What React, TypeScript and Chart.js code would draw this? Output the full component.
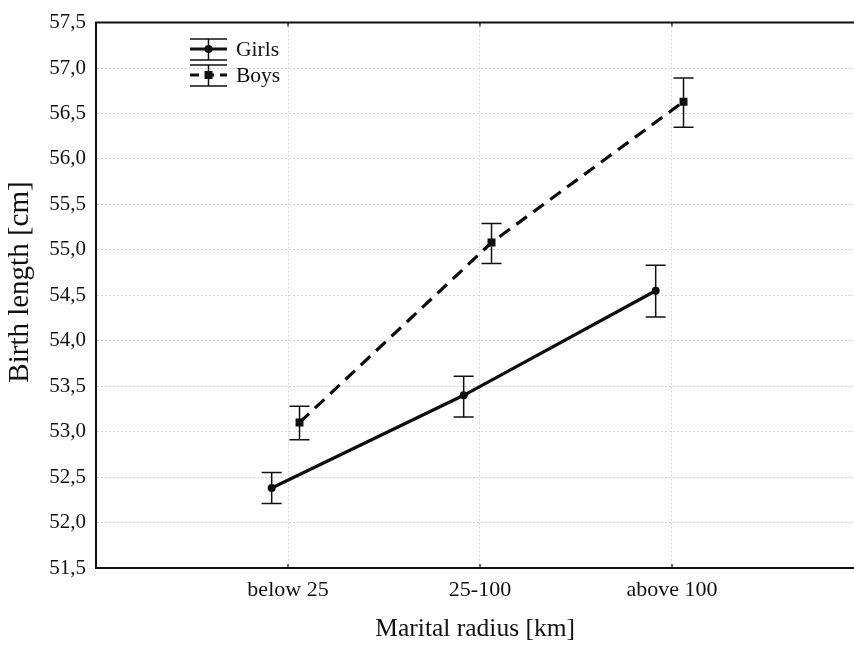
import React, { useEffect, useRef } from "react";
import { Chart, registerables } from "chart.js";

Chart.register(...registerables);

const categories = ["below 25", "25-100", "above 100"];
const girlsMean = [52.38, 53.40, 54.55];
const girlsLow = [52.21, 53.16, 54.26];
const girlsHigh = [52.55, 53.61, 54.83];
const boysMean = [53.10, 55.08, 56.63];
const boysLow = [52.91, 54.85, 56.35];
const boysHigh = [53.28, 55.29, 56.89];
const seriesNames = ["Girls", "Boys"];
const yTitle = "Birth length [cm]";
const xTitle = "Marital radius [km]";

const GIRLS_SHIFT = -0.085;
const BOYS_SHIFT = 0.06;
const FONT = "'Liberation Serif', 'Times New Roman', serif";

const lows = [girlsLow, boysLow];
const highs = [girlsHigh, boysHigh];

const errorBarPlugin = {
  id: "errorBars",
  afterDatasetsDraw(chart: any) {
    const ctx = chart.ctx;
    const yScale = chart.scales.y;
    ctx.save();
    ctx.strokeStyle = "#111";
    ctx.lineWidth = 1.5;
    ctx.setLineDash([]);
    chart.data.datasets.forEach((_ds: any, di: number) => {
      const meta = chart.getDatasetMeta(di);
      meta.data.forEach((el: any, i: number) => {
        const x = el.x;
        const yl = yScale.getPixelForValue(lows[di][i]);
        const yh = yScale.getPixelForValue(highs[di][i]);
        ctx.beginPath();
        ctx.moveTo(x, yl);
        ctx.lineTo(x, yh);
        ctx.moveTo(x - 10, yl);
        ctx.lineTo(x + 10, yl);
        ctx.moveTo(x - 10, yh);
        ctx.lineTo(x + 10, yh);
        ctx.stroke();
      });
    });
    ctx.restore();
  },
};

const framePlugin = {
  id: "frame",
  afterDraw(chart: any) {
    const ctx = chart.ctx;
    const { left, right, top, bottom } = chart.chartArea;
    const xScale = chart.scales.x;
    ctx.save();
    ctx.strokeStyle = "#111";
    ctx.lineWidth = 2;
    ctx.beginPath();
    ctx.moveTo(left - 1, top);
    ctx.lineTo(Math.max(right, chart.width), top);
    ctx.stroke();
    ctx.lineWidth = 1.2;
    xScale.ticks.forEach((t: any) => {
      const x = xScale.getPixelForValue(t.value);
      ctx.beginPath();
      ctx.moveTo(x, bottom);
      ctx.lineTo(x, bottom - 4);
      ctx.moveTo(x, top);
      ctx.lineTo(x, top + 4);
      ctx.stroke();
    });

    // y axis title
    ctx.save();
    ctx.translate(20, 282);
    ctx.rotate(-Math.PI / 2);
    ctx.font = `29px ${FONT}`;
    ctx.fillStyle = "#111";
    ctx.textAlign = "center";
    ctx.textBaseline = "middle";
    ctx.fillText(yTitle, 0, 0);
    ctx.restore();

    // legend
    const lx0 = 190;
    const lx1 = 227;
    const cx = (lx0 + lx1) / 2;
    const rows = [49, 75];
    rows.forEach((cy, ri) => {
      ctx.strokeStyle = "#111";
      ctx.fillStyle = "#111";
      ctx.lineWidth = 1.5;
      ctx.setLineDash([]);
      ctx.beginPath();
      ctx.moveTo(lx0, cy - 10);
      ctx.lineTo(lx1, cy - 10);
      ctx.moveTo(lx0, cy + 11);
      ctx.lineTo(lx1, cy + 11);
      ctx.moveTo(cx, cy - 10);
      ctx.lineTo(cx, cy + 11);
      ctx.stroke();
      ctx.lineWidth = 3;
      if (ri === 1) ctx.setLineDash([9, 6]);
      ctx.beginPath();
      ctx.moveTo(lx0, cy);
      ctx.lineTo(lx1, cy);
      ctx.stroke();
      ctx.setLineDash([]);
      if (ri === 0) {
        ctx.beginPath();
        ctx.arc(cx, cy, 4, 0, Math.PI * 2);
        ctx.fill();
      } else {
        ctx.fillRect(cx - 4, cy - 4, 8, 8);
      }
      ctx.font = `21.5px ${FONT}`;
      ctx.textBaseline = "middle";
      ctx.textAlign = "left";
      ctx.fillText(seriesNames[ri], 236, cy + 1);
    });
    ctx.restore();
  },
};

export default function App() {
  const canvasRef = useRef<HTMLCanvasElement | null>(null);

  useEffect(() => {
    const canvas = canvasRef.current;
    if (!canvas) return;
    const chart = new Chart(canvas, {
      type: "line",
      data: {
        datasets: [
          {
            label: seriesNames[0],
            data: girlsMean.map((v, i) => ({ x: i + 1 + GIRLS_SHIFT, y: v })),
            borderColor: "#0d0d0d",
            backgroundColor: "#0d0d0d",
            borderWidth: 3.2,
            pointStyle: "circle",
            pointRadius: 4,
            pointBackgroundColor: "#0d0d0d",
            pointBorderWidth: 0,
            tension: 0,
            fill: false,
          },
          {
            label: seriesNames[1],
            data: boysMean.map((v, i) => ({ x: i + 1 + BOYS_SHIFT, y: v })),
            borderColor: "#0d0d0d",
            backgroundColor: "#0d0d0d",
            borderWidth: 3.2,
            borderDash: [13, 8],
            pointStyle: "rect",
            pointRadius: 5.6,
            pointBackgroundColor: "#0d0d0d",
            pointBorderWidth: 0,
            tension: 0,
            fill: false,
          },
        ],
      },
      options: {
        animation: false,
        responsive: false,
        devicePixelRatio: 1,
        layout: { padding: { top: 15, right: 0, left: 0, bottom: 0 } },
        plugins: {
          legend: { display: false },
          tooltip: { enabled: false },
          title: { display: false },
        },
        scales: {
          x: {
            type: "linear",
            min: 0,
            max: 3.95,
            afterBuildTicks: (scale: any) => {
              scale.ticks = categories.map((_c, i) => ({ value: i + 1 }));
            },
            afterFit: (scale: any) => {
              scale.height = 79;
            },
            ticks: {
              callback: (v: any) => categories[Number(v) - 1] ?? "",
              font: { family: FONT, size: 22 },
              color: "#111",
              padding: 9,
              maxRotation: 0,
              autoSkip: false,
            },
            grid: {
              color: "#d4d4d4",
              lineWidth: 1,
              drawTicks: false,
            },
            border: { display: true, color: "#111", width: 2, dash: [2, 2] },
            title: {
              display: true,
              text: xTitle,
              font: { family: FONT, size: 25.5 },
              color: "#111",
              padding: { top: 0, bottom: 2 },
            },
          },
          y: {
            type: "linear",
            min: 51.5,
            max: 57.5,
            afterFit: (scale: any) => {
              scale.width = 96;
            },
            ticks: {
              stepSize: 0.5,
              callback: (v: any) => Number(v).toFixed(1).replace(".", ","),
              font: { family: FONT, size: 21 },
              color: "#111",
              padding: 10,
            },
            grid: {
              color: "#d4d4d4",
              lineWidth: 1,
              drawTicks: false,
            },
            border: { display: true, color: "#111", width: 2, dash: [2, 2] },
            title: { display: false, text: yTitle },
          },
        },
      },
      plugins: [errorBarPlugin, framePlugin],
    });
    return () => chart.destroy();
  }, []);

  return (
    <div style={{ position: "fixed", left: 0, top: 0, width: 854, height: 647, overflow: "hidden", background: "#fff" }}>
      <canvas ref={canvasRef} width={860} height={647} style={{ display: "block" }} />
    </div>
  );
}
